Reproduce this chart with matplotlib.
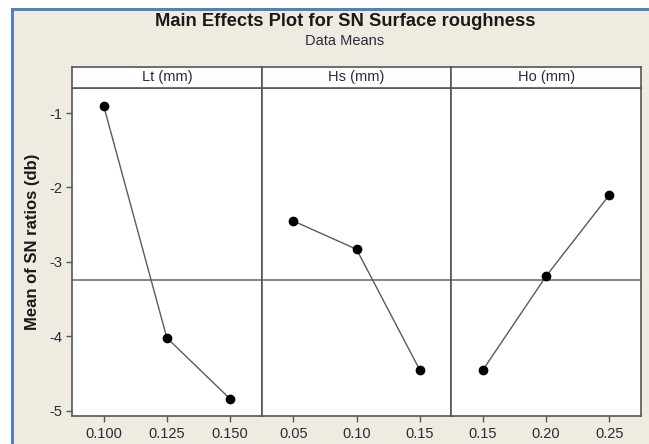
import numpy as np
import matplotlib
matplotlib.use('Agg')
import matplotlib.pyplot as plt
from matplotlib.patches import Rectangle

plt.rcParams['font.family'] = ['Liberation Sans', 'DejaVu Sans']

# factor levels and mean SN ratios (db)
FACTORS = ['Lt (mm)', 'Hs (mm)', 'Ho (mm)']
lt_levels = ['0.100', '0.125', '0.150']
lt_sn = [-0.90, -4.02, -4.84]
hs_levels = ['0.05', '0.10', '0.15']
hs_sn = [-2.45, -2.83, -4.45]
ho_levels = ['0.15', '0.20', '0.25']
ho_sn = [-4.45, -3.19, -2.10]

y_ticks = [-1, -2, -3, -4, -5]

levels = [lt_levels, hs_levels, ho_levels]
values = [lt_sn, hs_sn, ho_sn]
grand_mean = np.mean(lt_sn + hs_sn + ho_sn)

W, H = 649, 444
BEIGE = '#efebe1'
BLUE = '#4f80c6'
FRAME = '#555555'
TXT = '#2a2a3a'

fig = plt.figure(figsize=(W / 100, H / 100), dpi=100)
fig.patch.set_facecolor('white')

# window-like background with blue edge top/left
fig.add_artist(Rectangle((11 / W, 0), 1 - 11 / W, (H - 8) / H,
                         transform=fig.transFigure, facecolor=BLUE, edgecolor='none', zorder=-3))
fig.add_artist(Rectangle((14 / W, 0), 1 - 14 / W, (H - 11) / H,
                         transform=fig.transFigure, facecolor=BEIGE, edgecolor='none', zorder=-2))

left, right = 72 / W, 641 / W
bottom, top = (H - 416) / H, (H - 88) / H
strip_top = (H - 67) / H
pw = (right - left) / 3

for i in range(3):
    ax = fig.add_axes([left + i * pw, bottom, pw, top - bottom])
    ax.set_facecolor('white')
    x = np.arange(1, 4)
    ax.plot(x, values[i], color='#5a5a5a', lw=1.0, zorder=3)
    ax.plot(x, values[i], 'o', color='black', ms=6, zorder=4)
    ax.axhline(grand_mean, color='#666666', lw=1.1, zorder=2)
    ax.set_xlim(0.5, 3.5)
    ax.set_ylim(-5.07, -0.664)
    ax.set_xticks(x)
    ax.set_xticklabels(levels[i], fontsize=10.5, color=TXT)
    ax.tick_params(axis='x', direction='out', length=4, width=1, color=FRAME, pad=4)
    if i == 0:
        ax.set_yticks(y_ticks)
        ax.set_yticklabels([str(t) for t in y_ticks], fontsize=10.5, color=TXT)
        ax.tick_params(axis='y', direction='out', length=4, width=1, color=FRAME, pad=3)
    else:
        ax.tick_params(axis='y', left=False, labelleft=False)
    for s in ax.spines.values():
        s.set_color(FRAME)
        s.set_linewidth(1.2)

    sax = fig.add_axes([left + i * pw, top, pw, strip_top - top])
    sax.set_facecolor('white')
    sax.set_xticks([])
    sax.set_yticks([])
    for s in sax.spines.values():
        s.set_color(FRAME)
        s.set_linewidth(1.2)
    sax.text(0.5, 0.5, FACTORS[i], ha='center', va='center', fontsize=10.5,
             color=TXT, transform=sax.transAxes)

fig.text(345 / W, 1 - 21 / H, 'Main Effects Plot for SN Surface roughness',
         ha='center', va='center', fontsize=13.2, fontweight='bold', color='#1a1a1a')
fig.text(345 / W, 1 - 41 / H, 'Data Means', ha='center', va='center',
         fontsize=10.5, color=TXT)
fig.text(33 / W, 1 - 242 / H, 'Mean of SN ratios (db)', rotation=90,
         ha='center', va='center', fontsize=12, fontweight='bold', color='#1a1a1a')

fig.savefig('out.png', dpi=100, facecolor=fig.get_facecolor())
